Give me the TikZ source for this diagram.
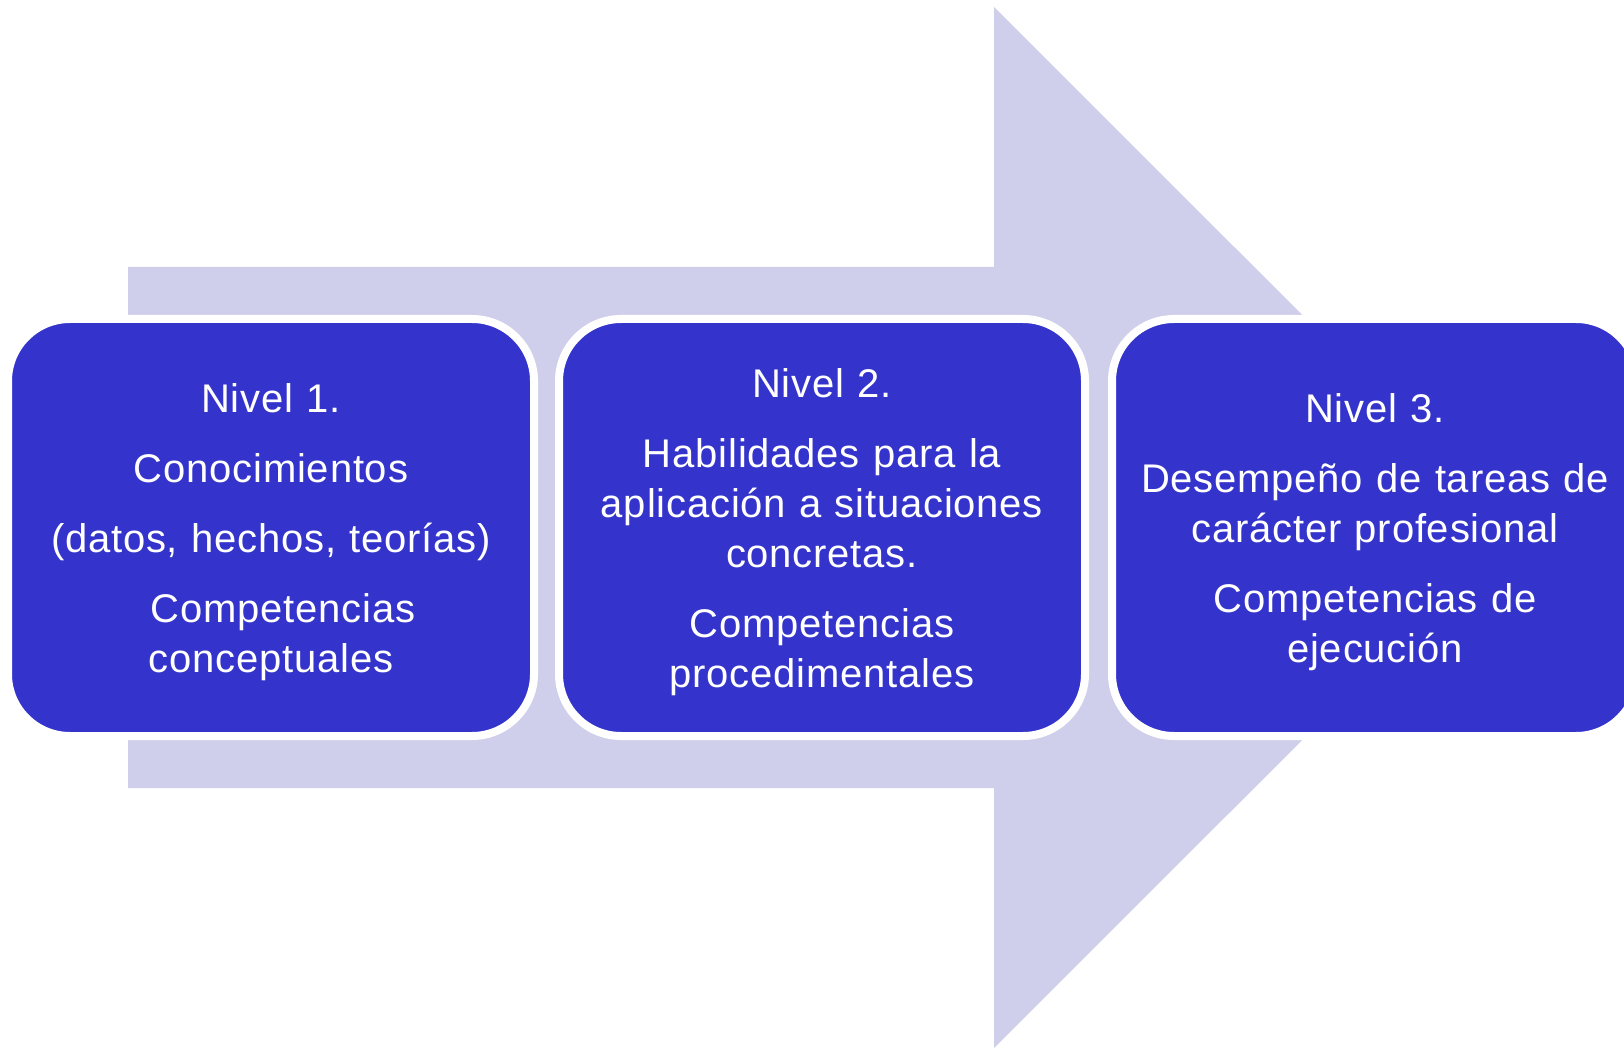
\documentclass[tikz,border=0pt]{standalone}
\usepackage{fontspec}
\setmainfont[LetterSpace=2]{Liberation Sans}
\definecolor{arrowfill}{RGB}{207,207,236}
\definecolor{boxfill}{RGB}{52,52,204}
\begin{document}
\begin{tikzpicture}[x=1pt,y=-1pt,
  levelbox/.style={fill=boxfill,draw=white,line width=8pt,rounded corners=62pt},
  leveltext/.style={text=white,align=center,text width=500pt,anchor=base,inner sep=0pt,
    font=\fontsize{40}{50}\selectfont}]
\useasboundingbox (0,0) rectangle (1624,1048);
% big arrow
\fill[arrowfill] (128,267) -- (994,267) -- (994,7) -- (1515,527.5) -- (994,1048) -- (994,788) -- (128,788) -- cycle;
% boxes
\draw[levelbox] (8,319) rectangle (534,736);
\draw[levelbox] (559,319) rectangle (1085,736);
\draw[levelbox] (1112,319) rectangle (1638,736);
\node[leveltext] (t1) at (271,412) {Nivel 1.\\[20pt]Conocimientos\\[20pt](datos, hechos, teorías)\\[20pt]\hspace*{0.6em}Competencias\\conceptuales};
\node[leveltext] (t2) at (822,397) {Nivel 2.\\[20pt]Habilidades para la\\aplicación a situaciones\\concretas.\\[20pt]Competencias\\procedimentales};
\node[leveltext] (t3) at (1375,422) {Nivel 3.\\[20pt]Desempeño de tareas de\\carácter profesional\\[20pt]Competencias de\\ejecución};
\end{tikzpicture}
\end{document}
